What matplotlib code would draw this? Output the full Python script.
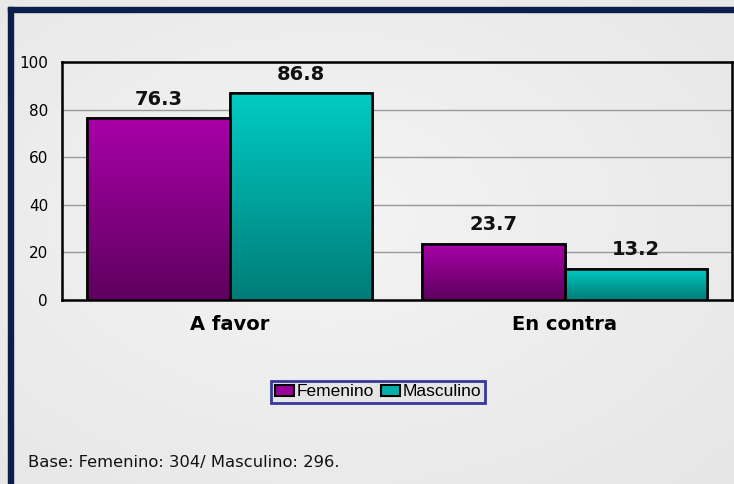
import numpy as np
import matplotlib
matplotlib.use("Agg")
import matplotlib.pyplot as plt
from matplotlib.patches import Patch, Rectangle
from matplotlib.colors import LinearSegmentedColormap

# data
categories = ["A favor", "En contra"]
series_names = ["Femenino", "Masculino"]
femenino = [76.3, 23.7]
masculino = [86.8, 13.2]
yticks = [0, 20, 40, 60, 80, 100]
footer = "Base: Femenino: 304/ Masculino: 296."

# colours (top, bottom) for the bar gradients
grad_colors = [("#A800A8", "#5E005E"), ("#00CCC4", "#007C78")]
face_colors = ["#990099", "#00B0AA"]

fig = plt.figure(figsize=(7.34, 4.84), dpi=100)

# background gradient
bg = fig.add_axes([0, 0, 1, 1], zorder=-10)
yy, xx = np.mgrid[0:1:200j, 0:1:300j]
r = np.sqrt(((xx - 0.45) / 0.9) ** 2 + ((yy - 0.45) / 0.9) ** 2)
bg_cmap = LinearSegmentedColormap.from_list("bg", ["#F4F4F4", "#E6E6E6"])
bg.imshow(r, cmap=bg_cmap, extent=[0, 1, 0, 1], aspect="auto", origin="upper")
bg.set_xlim(0, 1)
bg.set_ylim(0, 1)
bg.axis("off")

# navy frame (left and top)
navy = "#0C1F4C"
fig.patches.append(Rectangle((8 / 734, 0), 5 / 734, 1 - 7 / 484, transform=fig.transFigure,
                             color=navy, zorder=5))
fig.patches.append(Rectangle((8 / 734, 1 - 12 / 484), 1, 5 / 484, transform=fig.transFigure,
                             color=navy, zorder=5))

ax = fig.add_axes([62 / 734, 1 - 300 / 484, 670 / 734, 238 / 484])
ax.patch.set_alpha(0)

x = np.arange(len(categories))
width = 0.425

bars_f = ax.bar(x - width / 2, femenino, width, color=face_colors[0],
                edgecolor="black", linewidth=1.8, zorder=3)
bars_m = ax.bar(x + width / 2, masculino, width, color=face_colors[1],
                edgecolor="black", linewidth=1.8, zorder=3)

# vertical gradient inside each bar
grad = np.linspace(0, 1, 256).reshape(-1, 1)
for bars, (top, bottom) in zip([bars_f, bars_m], grad_colors):
    cmap = LinearSegmentedColormap.from_list("g", [bottom, top])
    for b in bars:
        x0, y0, w, h = b.get_x(), b.get_y(), b.get_width(), b.get_height()
        im = ax.imshow(grad, cmap=cmap, extent=[x0, x0 + w, y0, y0 + h],
                       origin="lower", aspect="auto", zorder=3.5)
        im.set_clip_path(b)
    for b in bars:
        ax.add_patch(Rectangle((b.get_x(), b.get_y()), b.get_width(), b.get_height(),
                               fill=False, edgecolor="black", linewidth=1.8, zorder=4))
        ax.annotate(f"{b.get_height():.1f}", (b.get_x() + b.get_width() / 2, b.get_height()),
                    xytext=(0, 7), textcoords="offset points", ha="center", va="bottom",
                    fontsize=14, fontweight="bold", color="#111111", zorder=5)

ax.set_xlim(-0.5, len(categories) - 0.5)
ax.set_ylim(0, 100)
ax.set_yticks(yticks)
ax.set_xticks(x)
ax.set_xticklabels(categories, fontsize=14, fontweight="bold")
ax.tick_params(axis="x", length=0, pad=11)
ax.tick_params(axis="y", length=0, pad=10, labelsize=11)
ax.grid(axis="y", color="#999999", linewidth=1, zorder=0)
for s in ax.spines.values():
    s.set_linewidth(1.8)
    s.set_color("black")

handles = [Patch(facecolor=face_colors[0], edgecolor="black", linewidth=1.5),
           Patch(facecolor=face_colors[1], edgecolor="black", linewidth=1.5)]
leg = fig.legend(handles, series_names, loc="center", bbox_to_anchor=(378 / 734, 1 - 392 / 484),
                 ncol=2, frameon=True, fancybox=False,
                 prop={"family": "Liberation Sans", "size": 12.5},
                 handlelength=1.1, handleheight=0.65, handletextpad=0.15, columnspacing=0.4,
                 borderpad=0.2, borderaxespad=0)
leg.get_frame().set_edgecolor("#0A0A88")
leg.get_frame().set_linewidth(2)
leg.get_frame().set_facecolor("#E4E4E4")
# widen the box a little to match the reference
leg._legend_box.align = "left"
leg.get_frame().set_boxstyle("square", pad=0.0)

fig.text(28 / 734, 1 - 462 / 484, footer, fontsize=11.8, va="center", ha="left", color="#111111")

fig.savefig("out.png", dpi=100)
